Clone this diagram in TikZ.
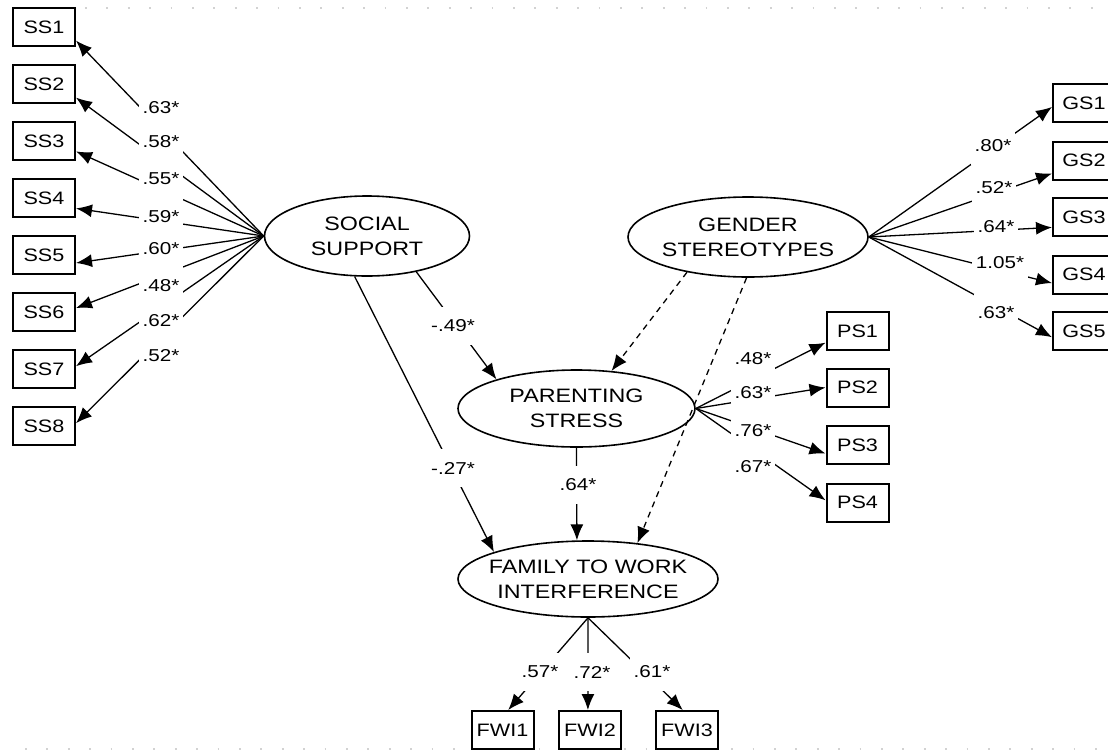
\documentclass[tikz,border=0pt]{standalone}
\usepackage{fontspec}
\setmainfont{Liberation Sans}[FakeStretch=1.2]
\usetikzlibrary{arrows.meta,shapes.geometric}
\begin{document}
\begin{tikzpicture}[x=0.5pt,y=-0.5pt,
  obs/.style={draw,line width=1pt,minimum width=31pt,minimum height=19pt,inner sep=0pt,font=\fontsize{9}{10}\selectfont},
  lat/.style={draw,ellipse,line width=0.8pt,inner sep=0pt},
  lattext/.style={align=center,inner sep=0pt,font=\fontsize{9.7}{12.5}\selectfont},
  coef/.style={fill=white,inner xsep=2pt,inner ysep=0pt,minimum height=19pt,font=\fontsize{8.6}{10}\selectfont},
  conn/.style={line width=0.65pt,-{Latex[length=8pt,width=6.5pt]}},
  dconn/.style={conn,dash pattern=on 3pt off 2.5pt},
  framedots/.style={gray!35,line width=0.9pt,dash pattern=on 0.9pt off 9.8pt}]

\useasboundingbox (0,0) rectangle (1108,750);
\draw[framedots] (85,8) -- (1108,8);
\draw[framedots] (25,749) -- (1108,749);

% latent variables
\node[lat,minimum width=102.5pt,minimum height=40pt,label={[lattext]center:SOCIAL\\SUPPORT}] (ss) at (367,236) {};
\node[lat,minimum width=120pt,minimum height=40pt,label={[lattext]center:GENDER\\STEREOTYPES}] (gs) at (748,237) {};
\node[lat,minimum width=118.5pt,minimum height=38.5pt,label={[lattext]center:PARENTING\\STRESS}] (ps) at (576.5,408.5) {};
\node[lat,minimum width=130pt,minimum height=38pt,label={[lattext]center:FAMILY TO WORK\\INTERFERENCE}] (fw) at (588,579) {};

% indicators
\foreach \i/\y in {1/27,2/84,3/141,4/198,5/255,6/312,7/369,8/426}
  \node[obs] (ss\i) at (44,\y) {SS\i};
\foreach \i/\y in {1/103,2/160.5,3/217,4/274.5,5/331}
  \node[obs] (gs\i) at (1084,\y) {GS\i};
\foreach \i/\y in {1/331,2/387.5,3/445,4/502.5}
  \node[obs] (ps\i) at (857.5,\y) {PS\i};
\node[obs] (fwi1) at (502.5,730) {FWI1};
\node[obs] (fwi2) at (590,730) {FWI2};
\node[obs] (fwi3) at (687,730) {FWI3};

% loadings
\foreach \i/\a in {1/-23,2/-23,3/-18,4/-18,5/-14,6/7,7/5,8/5}
  \draw[conn] (ss.west) -- (ss\i.\a);
\foreach \i/\a in {1/187,2/202,3/198,4/195,5/191}
  \draw[conn] (gs.east) -- (gs\i.\a);
\foreach \i/\a in {1/200,2/180,3/195,4/176}
  \draw[conn] (ps.east) -- (ps\i.\a);
\draw[conn] (fw.south) -- (fwi1.74);
\draw[conn] (fw.south) -- (fwi2.96);
\draw[conn] (fw.south) -- (fwi3.102);

% structural paths
\draw[conn] (ss.-36) -- (ps.160);
\draw[conn] (ss.-107) -- (fw.164);
\draw[conn] (ps.south) -- (fw.106);
\draw[dconn] (gs.-150) -- (ps.47);
\draw[dconn] (gs.-92) -- (fw.36);

% coefficients
\node[coef,minimum width=21pt] (css1) at (161,108) {.63*};
\node[coef,minimum width=21pt] (css2) at (161,142) {.58*};
\node[coef,minimum width=21pt] (css3) at (161,179) {.55*};
\node[coef,minimum width=21pt] (css4) at (161,217) {.59*};
\node[coef,minimum width=21pt] (css5) at (161,249) {.60*};
\node[coef,minimum width=21pt] (css6) at (161,286) {.48*};
\node[coef,minimum width=21pt] (css7) at (161,321) {.62*};
\node[coef,minimum width=21pt] (css8) at (161,356) {.52*};

\node[coef] (cgs1) at (993,146) {.80*};
\node[coef] (cgs2) at (994,188) {.52*};
\node[coef] (cgs3) at (996,227) {.64*};
\node[coef] (cgs4) at (1000,263) {1.05*};
\node[coef] (cgs5) at (996,313) {.63*};

\node[coef] (cps1) at (753,359) {.48*};
\node[coef] (cps2) at (753,393) {.63*};
\node[coef] (cps3) at (753,431) {.76*};
\node[coef] (cps4) at (753,467) {.67*};

\node[coef] (cfw1) at (540,672) {.57*};
\node[coef] (cfw2) at (592,672) {.72*};
\node[coef] (cfw3) at (652,672) {.61*};

\node[coef] (csp) at (453,326) {-.49*};
\node[coef] (csf) at (453,468) {-.27*};
\node[coef] (cpf) at (578,485) {.64*};
\end{tikzpicture}
\end{document}
